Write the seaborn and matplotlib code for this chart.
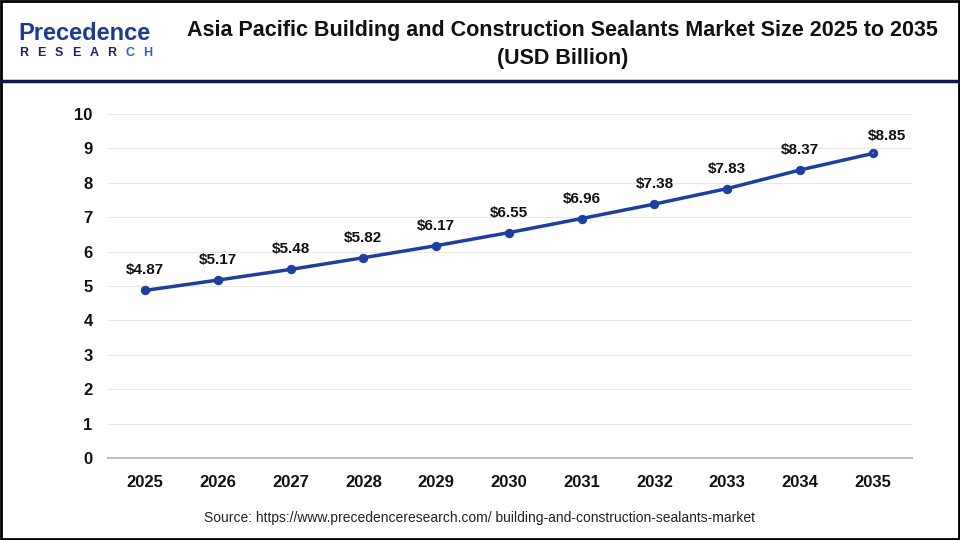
import numpy as np
import pandas as pd
import matplotlib.pyplot as plt
import seaborn as sns
from matplotlib.patches import Rectangle
from matplotlib.lines import Line2D

### DATA ###
years = [2025, 2026, 2027, 2028, 2029, 2030, 2031, 2032, 2033, 2034, 2035]
market_size = [4.87, 5.17, 5.48, 5.82, 6.17, 6.55, 6.96, 7.38, 7.83, 8.37, 8.85]
y_ticks = [0, 1, 2, 3, 4, 5, 6, 7, 8, 9, 10]

title = "Asia Pacific Building and Construction Sealants Market Size 2025 to 2035\n(USD Billion)"
source = "Source: https://www.precedenceresearch.com/ building-and-construction-sealants-market"

df = pd.DataFrame({"Year": years, "Size": market_size})

sns.set_theme(style="white")
plt.rcParams['font.family'] = ['Liberation Sans', 'DejaVu Sans']

fig = plt.figure(figsize=(9.6, 5.4), dpi=100)
ax = fig.add_axes([0.1125, 0.152, 0.8375, 0.637])

line_color = "#1f3fa0"
sns.lineplot(data=df, x="Year", y="Size", ax=ax, color=line_color, linewidth=2.5,
             marker="o", markersize=6, markeredgecolor=line_color)

ax.set_xlim(years[0] - 0.51, years[-1] + 0.54)
ax.set_ylim(0, 10)
ax.set_yticks(y_ticks)
ax.set_xticks(years)
ax.set_xticklabels([str(y) for y in years], fontsize=12, fontweight="bold")
ax.set_yticklabels([str(t) for t in y_ticks], fontsize=12, fontweight="bold")
ax.tick_params(axis="x", pad=12, length=0, labelcolor="#111111")
ax.tick_params(axis="y", pad=11, length=0, labelcolor="#111111")
ax.set_xlabel("")
ax.set_ylabel("")
ax.grid(axis="y", color="#e8e8e8", linewidth=0.8)
for s in ["top", "right", "left"]:
    ax.spines[s].set_visible(False)
ax.spines["bottom"].set_color("#bdbdbd")
ax.spines["bottom"].set_linewidth(1.5)

# value labels
for i, (x, v) in enumerate(zip(years, market_size)):
    if i == len(years) - 1:
        ax.annotate(f"${v:.2f}", xy=(x, v), xytext=(x + 0.19, v + 0.52),
                    ha="center", va="center", fontsize=11, fontweight="bold",
                    color="#111111",
                    arrowprops=dict(arrowstyle="-", color="#aaaaaa", lw=0.7,
                                    shrinkA=6, shrinkB=0))
    else:
        ax.text(x, v + 0.58, f"${v:.2f}", ha="center", va="center",
                fontsize=11, fontweight="bold", color="#111111")

# header
fig.text(0.586, 0.918, title, ha="center", va="center", fontsize=15.5,
         fontweight="bold", color="#111111", linespacing=1.45)
fig.text(0.019, 1 - 33 / 540, "Precedence", ha="left", va="center", fontsize=17,
         color="#1f3a93", fontweight="bold")
for k, ch in enumerate("RESEARCH"):
    fig.text((24 + k * 17.6) / 960, 1 - 53 / 540, ch, ha="center", va="center",
             fontsize=9, color="#1c2466" if k < 6 else "#2f5fd0", fontweight="bold")
fig.add_artist(Line2D([0, 1], [1 - 81 / 540, 1 - 81 / 540], transform=fig.transFigure,
                      color="#14124a", linewidth=2.5))

fig.text(0.5, 0.04, source, ha="center", va="center", fontsize=10, color="#222222")

fig.add_artist(Rectangle((0.001, 0.001), 0.998, 0.998, transform=fig.transFigure,
                         fill=False, edgecolor="black", linewidth=2))

fig.savefig("out.png", dpi=100)
